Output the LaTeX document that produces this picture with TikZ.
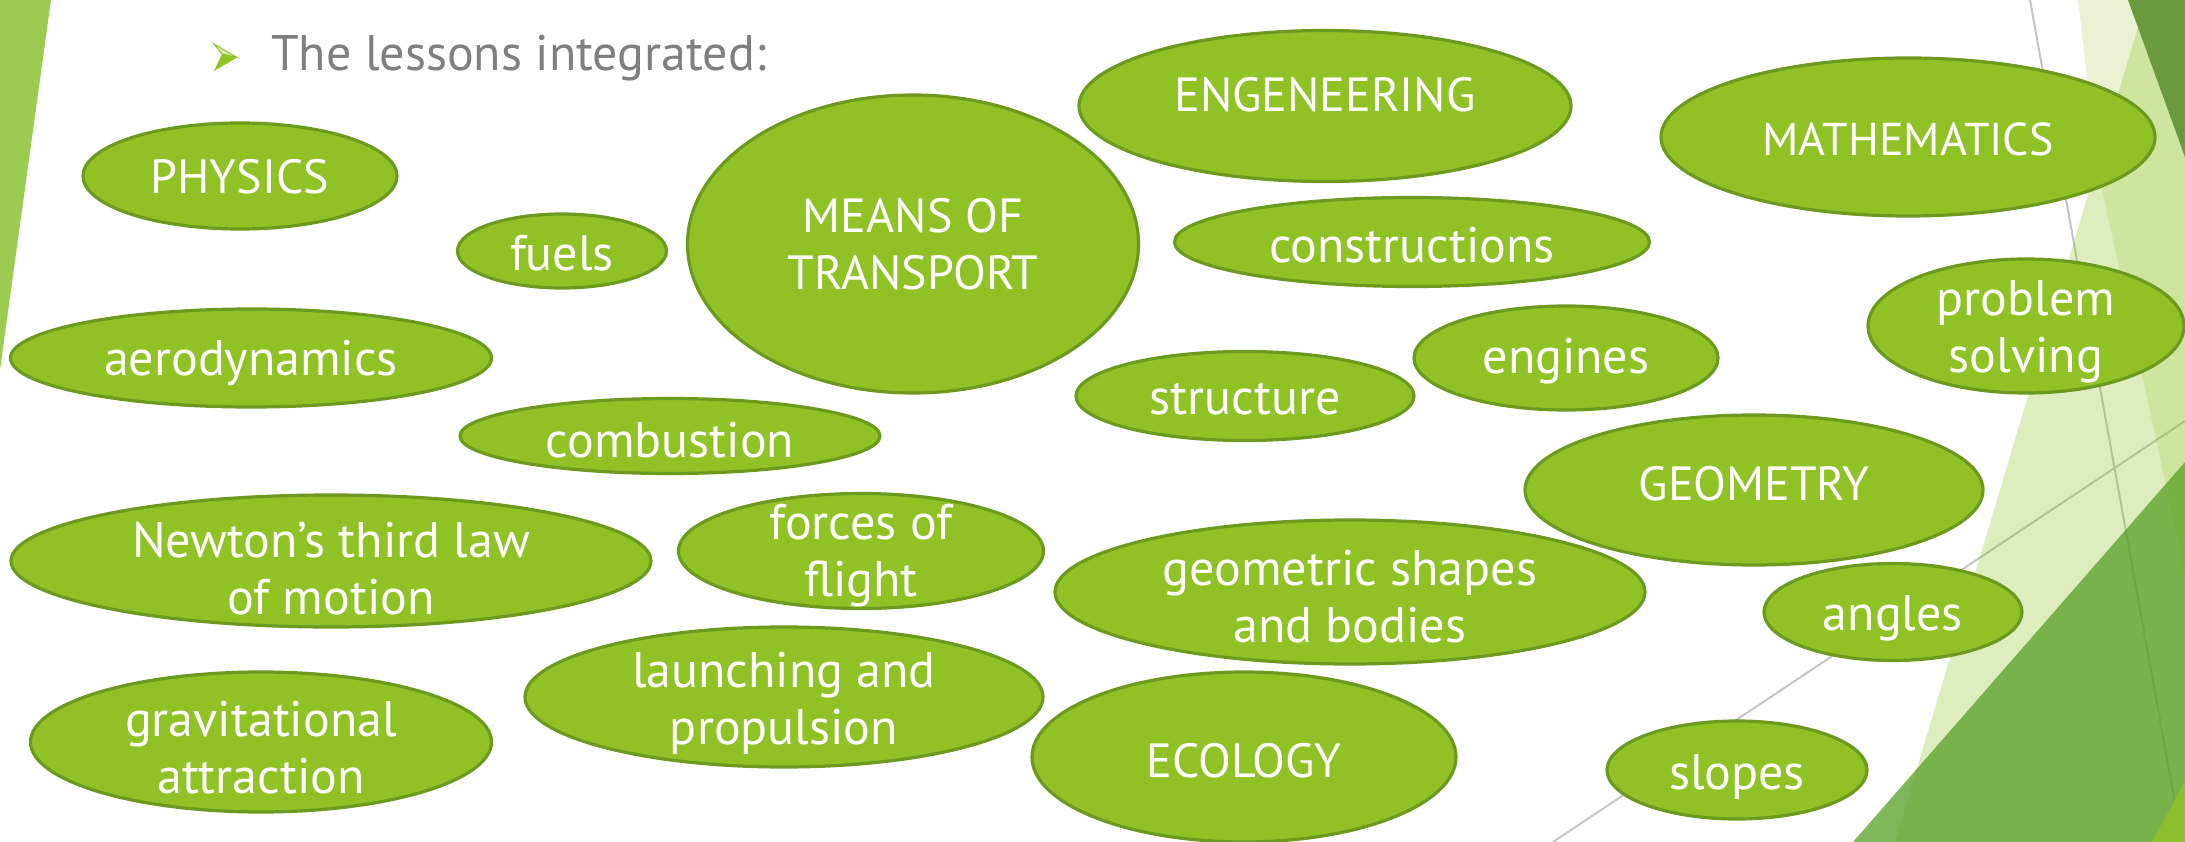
\documentclass[tikz,border=0pt]{standalone}
\usepackage{fontspec}
\setmainfont{PT Sans}
\usetikzlibrary{shapes.geometric}
\definecolor{acc}{HTML}{90C226}
\definecolor{accline}{HTML}{6B9A1E}
\definecolor{stripc}{HTML}{9CCB52}
\definecolor{darktop}{HTML}{699A3E}
\definecolor{darktri}{HTML}{569F23}
\definecolor{brightc}{HTML}{8DBE2D}
\definecolor{greyline}{HTML}{C4C4C4}
\definecolor{titlegrey}{HTML}{7F7F7F}
\definecolor{bulletlight}{HTML}{D9ECB4}
\begin{document}
\begin{tikzpicture}[x=1pt,y=-1pt,
  bub/.style={ellipse, draw=accline, fill=acc, line width=3.2pt, inner sep=0pt},
  lbl/.style={text=white, font=\fontsize{50}{57}\selectfont, align=center, inner sep=0pt},
  caps/.style={font=\fontsize{48}{57}\selectfont},
  gline/.style={draw=greyline, line width=2pt}]
\useasboundingbox (0,0) rectangle (2185,842);
% ---------- background decorations ----------
\fill[stripc] (0,0) -- (51,0) -- (0,370) -- cycle;
\coordinate (l1a) at (2030,0);
\coordinate (l1b) at (2182,842);
\coordinate (l2a) at (1553,842);
\coordinate (l2b) at (2185,421);
\draw[gline] (l1a) -- (l1b);
\draw[gline] (l2a) -- (l2b);
\fill[acc, opacity=0.2] (2078,0) -- (2185,0) -- (2185,574) -- (2098,170) -- cycle;
\fill[acc, opacity=0.3] (2146,0) -- (2185,0) -- (2185,842) -- (1895,842) -- cycle;
\fill[darktri, opacity=0.75] (1853,842) -- (2185,842) -- (2185,462) -- cycle;
\fill[darktop] (2128,0) -- (2185,0) -- (2185,157) -- cycle;
\fill[brightc] (2152,842) -- (2185,842) -- (2185,781) -- cycle;
% ---------- title ----------
\fill[bulletlight, draw=acc, line width=1pt] (214,44) -- (237,57.5) -- (222,54) -- cycle;
\fill[acc] (222,54) -- (237,57.5) -- (214,71) -- cycle;
\node[anchor=base west, text=titlegrey, font=\fontsize{50}{57}\selectfont, inner sep=0pt] (title) at (271,71) {The lessons integrated:};
% ---------- bubbles ----------
\node[bub, minimum width=314pt, minimum height=106pt] (phys) at (240,176) {};
\node[bub, minimum width=209pt, minimum height=74pt] (fuel) at (562,251) {};
\node[bub, minimum width=451pt, minimum height=298pt] (mot) at (913,244) {};
\node[bub, minimum width=492pt, minimum height=151pt] (eng) at (1325,106) {};
\node[bub, minimum width=494pt, minimum height=158pt] (math) at (1908,137) {};
\node[bub, minimum width=475pt, minimum height=89pt] (cons) at (1412,242) {};
\node[bub, minimum width=481pt, minimum height=98pt] (aero) at (251,358) {};
\node[bub, minimum width=304pt, minimum height=104pt] (engi) at (1566,358) {};
\node[bub, minimum width=338pt, minimum height=89pt] (stru) at (1245,396) {};
\node[bub, minimum width=316pt, minimum height=134pt] (prob) at (2026,326) {};
\node[bub, minimum width=420pt, minimum height=75pt] (comb) at (670,436) {};
\node[bub, minimum width=458pt, minimum height=150pt] (geo) at (1754,490) {};
\node[bub, minimum width=640pt, minimum height=132pt] (newt) at (331,561) {};
\node[bub, minimum width=365pt, minimum height=115pt] (forc) at (861,551) {};
\node[bub, minimum width=590pt, minimum height=144pt] (shap) at (1350,592) {};
\node[bub, minimum width=258pt, minimum height=97pt] (angl) at (1893,612) {};
\node[bub, minimum width=461pt, minimum height=140pt] (grav) at (261,742) {};
\node[bub, minimum width=518pt, minimum height=140pt] (laun) at (784,697) {};
\node[bub, minimum width=424pt, minimum height=170pt] (ecol) at (1244,757) {};
\node[bub, minimum width=260pt, minimum height=98pt] (slop) at (1737,770) {};
% ---------- labels ----------
\node[lbl, caps] (phys-t) at ([yshift=-1pt]phys.center) {PHYSICS};
\node[lbl] (fuel-t) at ([yshift=-2pt]fuel.center) {fuels};
\node[lbl, caps] (mot-t) at (mot) {MEANS OF\\TRANSPORT};
\node[lbl, caps] (eng-t) at ([yshift=11pt]eng.center) {ENGENEERING};
\node[lbl, caps, font=\fontsize{46}{57}\selectfont] (math-t) at ([yshift=-2pt]math.center) {MATHEMATICS};
\node[lbl] (cons-t) at ([yshift=-3pt]cons.center) {constructions};
\node[lbl] (aero-t) at ([yshift=-5pt]aero.center) {aerodynamics};
\node[lbl] (engi-t) at ([yshift=-3pt]engi.center) {engines};
\node[lbl] (stru-t) at ([yshift=-3pt]stru.center) {structure};
\node[lbl] (prob-t) at ([yshift=-6pt]prob.center) {problem\\solving};
\node[lbl] (comb-t) at ([yshift=-4pt]comb.center) {combustion};
\node[lbl, caps] (geo-t) at ([yshift=6pt]geo.center) {GEOMETRY};
\node[lbl] (newt-t) at ([yshift=-8pt]newt.center) {Newton’s third law\\of motion};
\node[lbl] (forc-t) at ([yshift=-5pt]forc.center) {forces of\\flight};
\node[lbl] (shap-t) at ([yshift=-5pt]shap.center) {geometric shapes\\and bodies};
\node[lbl] (angl-t) at ([yshift=-6pt]angl.center) {angles};
\node[lbl] (grav-t) at ([yshift=-6pt]grav.center) {gravitational\\attraction};
\node[lbl] (laun-t) at ([yshift=-6pt]laun.center) {launching and\\propulsion};
\node[lbl, caps] (ecol-t) at ([yshift=-4pt]ecol.center) {ECOLOGY};
\node[lbl] (slop-t) at ([yshift=-7pt]slop.center) {slopes};
\end{tikzpicture}
\end{document}
